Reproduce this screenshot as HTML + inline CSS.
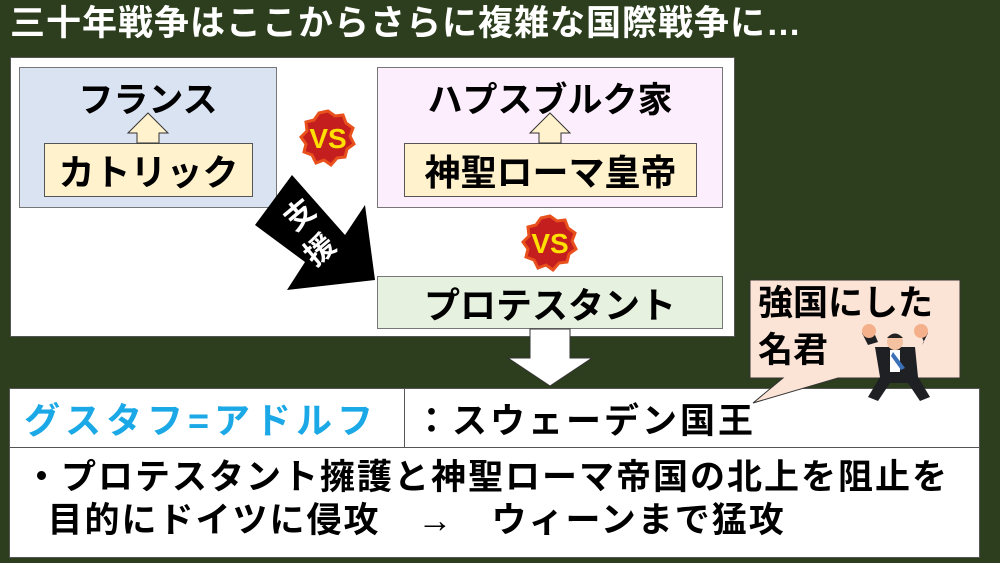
<!DOCTYPE html>
<html><head><meta charset="utf-8"><style>
body{margin:0;width:1000px;height:563px;background:#2c3e1d;position:relative;overflow:hidden;font-family:"Liberation Sans","Noto Sans CJK JP",sans-serif;font-weight:bold;}
.a{position:absolute;box-sizing:border-box;}
.t{display:flex;align-items:center;justify-content:center;color:#000;}
</style></head><body>
<div class="a" style="left:10px;top:2px;color:#fff;font-size:35px;line-height:44px;white-space:nowrap;letter-spacing:1px;">三十年戦争はここからさらに複雑な国際戦争に…</div>
<div class="a" style="left:10px;top:57px;width:725px;height:280px;background:#fff;border:1px solid #555;"></div>
<div class="a t" style="left:19px;top:67px;width:258px;height:141px;background:#dae3f2;border:1px solid #777;align-items:flex-start;padding-top:4px;font-size:35px;">フランス</div>
<div class="a t" style="left:44px;top:143px;width:209px;height:54px;background:#fff2cc;border:1px solid #555;font-size:36px;">カトリック</div>
<div class="a t" style="left:377px;top:67px;width:346px;height:141px;background:#fdeefd;border:1px solid #777;align-items:flex-start;padding-top:4px;font-size:35px;">ハプスブルク家</div>
<div class="a t" style="left:404px;top:143px;width:293px;height:54px;background:#fff2cc;border:1px solid #555;font-size:36px;">神聖ローマ皇帝</div>
<div class="a t" style="left:377px;top:276px;width:346px;height:53px;background:#e6f1df;border:1px solid #777;font-size:36px;">プロテスタント</div>
<svg class="a" style="left:0;top:0" width="1000" height="563">
<polygon points="148,113 128,133 137,133 137,143 159,143 159,133 168,133" fill="#fff2cc" stroke="#333" stroke-width="1"/>
<polygon points="550,113 530,133 539,133 539,143 561,143 561,133 570,133" fill="#fff2cc" stroke="#333" stroke-width="1"/>
<polygon points="292,175 345,235 365,205 375,280 287,290 305,262 255,225" fill="#000"/>
<text x="300" y="225" fill="#fff" font-size="30" font-weight="bold" transform="rotate(-40 300 215)" text-anchor="middle" font-family="Liberation Sans,Noto Sans CJK JP,sans-serif">支</text>
<text x="320" y="260" fill="#fff" font-size="30" font-weight="bold" transform="rotate(-40 320 250)" text-anchor="middle" font-family="Liberation Sans,Noto Sans CJK JP,sans-serif">援</text>
<g transform="translate(328,138)"><polygon points="0,-27 7,-22 15,-23 18,-15 25,-10 22,-2 26,6 19,11 17,19 9,20 3,27 -4,22 -12,25 -16,17 -24,14 -22,6 -27,-1 -21,-7 -22,-16 -14,-18 -9,-25" fill="#c41e1e" stroke="#e8501c" stroke-width="3"/><text x="0" y="10" text-anchor="middle" font-size="28" font-weight="bold" fill="#ffe000" font-family="Liberation Sans,sans-serif">VS</text></g>
<g transform="translate(550,243)"><polygon points="0,-27 7,-22 15,-23 18,-15 25,-10 22,-2 26,6 19,11 17,19 9,20 3,27 -4,22 -12,25 -16,17 -24,14 -22,6 -27,-1 -21,-7 -22,-16 -14,-18 -9,-25" fill="#c41e1e" stroke="#e8501c" stroke-width="3"/><text x="0" y="10" text-anchor="middle" font-size="28" font-weight="bold" fill="#ffe000" font-family="Liberation Sans,sans-serif">VS</text></g>
<polygon points="530,329 570,329 570,358 592,358 550,386 508,358 530,358" fill="#fff" stroke="#333" stroke-width="1"/>
</svg>
<div class="a" style="left:9px;top:388px;width:971px;height:170px;background:#fff;border:1px solid #555;"></div>
<div class="a" style="left:9px;top:388px;width:396px;height:60px;border:1px solid #555;color:#1aa8e6;font-size:36px;display:flex;align-items:center;padding-left:14px;white-space:nowrap;letter-spacing:5px;">グスタフ=アドルフ</div>
<div class="a" style="left:9px;top:447px;width:971px;height:1px;background:#555;"></div>
<div class="a" style="left:414px;top:393px;font-size:35px;color:#000;white-space:nowrap;letter-spacing:3px;">：スウェーデン国王</div>
<div class="a" style="left:24px;top:456px;font-size:35px;color:#000;line-height:43px;white-space:nowrap;letter-spacing:2px;">・プロテスタント擁護と神聖ローマ帝国の北上を阻止を<br>&nbsp;&nbsp;目的にドイツに侵攻　→　ウィーンまで猛攻</div>
<svg class="a" style="left:0;top:0" width="1000" height="563">
<polygon points="750,280 960,280 960,378 838,378 753,403 783,378 750,378" fill="#fbe3d6" stroke="#333" stroke-width="1"/>
<g>
<path d="M868,345 l-6,-12 l10,-5 l6,14z M922,345 l6,-12 l-10,-5 l6,14z" fill="#1e2024"/>
<circle cx="869" cy="331" r="7" fill="#f4b08a"/><circle cx="921" cy="331" r="7" fill="#f4b08a"/>
<path d="M875,347 l40,0 l3,30 l12,20 l-10,4 l-12,-18 l-18,0 l-12,18 l-10,-4 l12,-20z" fill="#1e2024"/>
<rect x="890" y="350" width="10" height="22" fill="#fff"/>
<circle cx="895" cy="342" r="8" fill="#f4c2a0"/><path d="M887,338 q8,-9 16,0z" fill="#222"/>
<path d="M893,352 l12,16 l-4,2 l-10,-14z" fill="#3a70b8"/>
</g>
<text x="758" y="315" font-size="35" font-weight="bold" fill="#000" font-family="Liberation Sans,Noto Sans CJK JP,sans-serif">強国にした</text>
<text x="758" y="362" font-size="35" font-weight="bold" fill="#000" font-family="Liberation Sans,Noto Sans CJK JP,sans-serif">名君</text>
</svg>
</body></html>
